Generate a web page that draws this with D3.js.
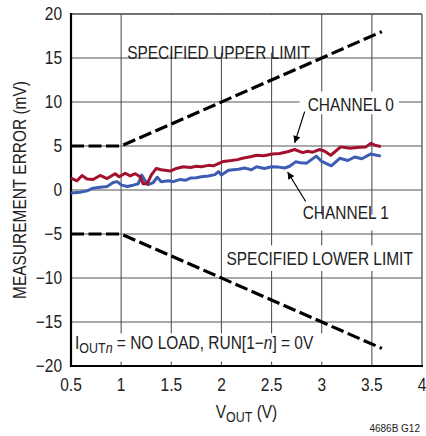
<!DOCTYPE html>
<html><head><meta charset="utf-8">
<script src="https://cdn.jsdelivr.net/npm/d3@7"></script>
<style>
html,body{margin:0;padding:0;background:#fff;}
svg text{font-family:"Liberation Sans",Arial,sans-serif;fill:#222;}
</style></head>
<body><svg id="c" width="426" height="436"></svg>
<script>
const xTicks = [0.5,1,1.5,2,2.5,3,3.5,4];
const yTicks = [-20,-15,-10,-5,0,5,10,15,20];
const xTickLabels = ["0.5","1","1.5","2","2.5","3","3.5","4"];
const yTickLabels = ["\u221220","\u221215","\u221210","\u22125","0","5","10","15","20"];

const limitV = [0.5, 1.0, 3.6];
const upperLimit = [5, 5, 18];
const lowerLimit = [-5, -5, -18];

const ch0V = [0.50,0.56,0.61,0.66,0.72,0.79,0.86,0.94,0.98,1.04,1.09,1.14,1.19,1.22,1.26,1.30,1.35,1.40,1.49,1.55,1.62,1.69,1.75,1.80,1.87,1.92,1.97,2.02,2.10,2.16,2.21,2.30,2.35,2.42,2.51,2.58,2.66,2.73,2.81,2.86,2.91,2.98,3.03,3.09,3.19,3.28,3.38,3.44,3.49,3.54,3.59];
const ch0 = [1.35,1.05,1.65,1.25,1.2,1.65,1.3,1.85,1.5,1.9,1.6,1.85,1.5,0.7,0.7,1.7,2.45,2.3,2.15,2.45,2.65,2.55,2.7,2.65,2.8,2.75,3.0,3.25,3.35,3.45,3.6,3.8,3.95,3.9,4.1,4.15,4.35,4.6,4.25,4.4,4.3,4.6,4.4,3.95,4.9,4.75,4.85,4.9,5.3,5.05,4.95];

const ch1V = [0.50,0.59,0.66,0.72,0.79,0.86,0.92,0.96,1.005,1.06,1.12,1.17,1.205,1.24,1.27,1.32,1.36,1.40,1.47,1.52,1.59,1.64,1.69,1.75,1.80,1.87,1.935,1.97,2.00,2.07,2.17,2.23,2.30,2.35,2.43,2.50,2.57,2.63,2.68,2.74,2.79,2.85,2.945,3.00,3.095,3.18,3.26,3.33,3.40,3.49,3.59];
const ch1 = [-0.35,-0.25,-0.1,0.2,0.3,0.4,0.85,0.95,0.55,0.4,0.55,0.7,1.7,1.05,0.6,0.85,1.45,0.95,1.05,0.95,1.2,1.1,1.35,1.4,1.5,1.6,1.75,2.1,1.7,2.25,2.35,2.5,2.3,2.65,2.45,2.65,2.6,2.5,2.7,3.2,3.1,3.05,3.85,3.25,2.75,3.6,3.35,3.75,3.55,4.1,3.85];

const svg = d3.select("#c");
const x = d3.scaleLinear().domain([0.5,4]).range([71,422]);
const y = d3.scaleLinear().domain([-20,20]).range([366,14]);
const FS = 18, SX = 0.86;

// grid
const grid = svg.append("g").attr("stroke","#555").attr("stroke-width",1.1);
xTicks.slice(1,-1).forEach(t=>grid.append("line").attr("x1",x(t)).attr("x2",x(t)).attr("y1",y(20)).attr("y2",y(-20)));
yTicks.slice(1,-1).forEach(t=>grid.append("line").attr("x1",x(0.5)).attr("x2",x(4)).attr("y1",y(t)).attr("y2",y(t)));

// label backgrounds (cover grid)
function bg(x0,y0,x1,y1){svg.append("rect").attr("x",x0).attr("y",y0).attr("width",x1-x0).attr("height",y1-y0).attr("fill","#fff");}
bg(x(1.03), y(20)+1, x(2.98), y(15.6));
bg(x(2.78), y(11.2), x(3.77), y(8.6));
bg(x(2.78), y(-2.8), x(3.77), y(-4.6));
bg(x(2.02), y(-6.3), x(3.98), y(-9.2));
bg(x(0.52), y(-16.3), x(3.15), y(-19.5));

// frame
svg.append("line").attr("x1",x(0.5)).attr("x2",x(4)).attr("y1",y(20)).attr("y2",y(20)).attr("stroke","#444").attr("stroke-width",1.5);
svg.append("line").attr("x1",x(4)).attr("x2",x(4)).attr("y1",y(20)).attr("y2",y(-20)).attr("stroke","#666").attr("stroke-width",1.5);
svg.append("line").attr("x1",x(0.5)).attr("x2",x(0.5)).attr("y1",y(20)-1).attr("y2",y(-20)+1).attr("stroke","#000").attr("stroke-width",2.2);
svg.append("line").attr("x1",x(0.5)-1).attr("x2",x(4)+1).attr("y1",y(-20)).attr("y2",y(-20)).attr("stroke","#000").attr("stroke-width",2.2);

// condensed text helper
function lbl(xx,yy,anchor,rot){
  const g = svg.append("g").attr("transform",`translate(${xx},${yy})${rot?` rotate(${rot})`:""} scale(${SX},1)`);
  return g.append("text").attr("x",0).attr("y",0).attr("text-anchor",anchor||"start").attr("font-size",FS);
}

// tick labels
xTicks.forEach((t,i)=>lbl(x(t),391,"middle").text(xTickLabels[i]));
yTicks.forEach((t,i)=>lbl(62,y(t),"end").attr("dy","0.36em").text(yTickLabels[i]));

// limit lines
const line = d3.line().x(d=>x(d[0])).y(d=>y(d[1]));
svg.append("path").attr("d",line(limitV.map((v,i)=>[v,upperLimit[i]]))).attr("fill","none").attr("stroke","#000").attr("stroke-width",3.2).attr("stroke-dasharray","13,4.5");
svg.append("path").attr("d",line(limitV.map((v,i)=>[v,lowerLimit[i]]))).attr("fill","none").attr("stroke","#000").attr("stroke-width",3.2).attr("stroke-dasharray","13,4.5");

// channels
svg.append("path").attr("d",line(ch1V.map((v,i)=>[v,ch1[i]]))).attr("fill","none").attr("stroke","#3d5db5").attr("stroke-width",3).attr("stroke-linejoin","round");
svg.append("path").attr("d",line(ch0V.map((v,i)=>[v,ch0[i]]))).attr("fill","none").attr("stroke","#a3112f").attr("stroke-width",3).attr("stroke-linejoin","round");

// arrows
svg.append("defs").append("marker").attr("id","ah").attr("viewBox","0 0 10 10").attr("refX",10).attr("refY",5)
  .attr("markerWidth",10).attr("markerHeight",7).attr("markerUnits","userSpaceOnUse").attr("orient","auto")
  .append("path").attr("d","M0,0L10,5L0,10z").attr("fill","#000");
function arrow(v0,e0,v1,e1){svg.append("line").attr("x1",x(v0)).attr("y1",y(e0)).attr("x2",x(v1)).attr("y2",y(e1)).attr("stroke","#000").attr("stroke-width",1.2).attr("marker-end","url(#ah)");}
arrow(2.83, 8.9, 2.73, 5.35);
arrow(2.84, -1.3, 2.66, 2.05);

// texts
lbl(x(1.06), y(14.85)).text("SPECIFIED UPPER LIMIT");
lbl(x(2.86), y(9.0)).text("CHANNEL 0");
lbl(x(2.81), y(-3.3)).text("CHANNEL 1");
lbl(x(2.05), y(-8.55)).text("SPECIFIED LOWER LIMIT");

const t5 = lbl(x(0.54), y(-18.05));
t5.append("tspan").text("I");
t5.append("tspan").attr("font-size",14.5).attr("dy",4).text("OUT");
t5.append("tspan").attr("font-size",14.5).attr("font-style","italic").text("n");
t5.append("tspan").attr("dy",-4).text(" = NO LOAD, RUN[1\u2212");
t5.append("tspan").attr("font-style","italic").text("n");
t5.append("tspan").text("] = 0V");

// axis titles
const xt = lbl(x(2.25),418,"middle");
xt.append("tspan").text("V");
xt.append("tspan").attr("font-size",14.5).attr("dy",4).text("OUT");
xt.append("tspan").attr("dy",-4).text(" (V)");

lbl(26, y(0), "middle", -90).text("MEASUREMENT ERROR (mV)");

svg.append("text").attr("x",420).attr("y",432).attr("text-anchor","end").attr("font-size",10).attr("transform","").text("4686B G12");
</script></body></html>
